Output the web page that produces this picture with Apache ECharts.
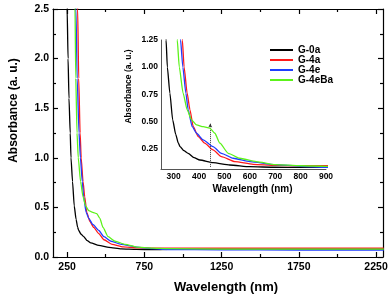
<!DOCTYPE html>
<html>
<head>
<meta charset="utf-8">
<script src="https://cdn.jsdelivr.net/npm/echarts@6/dist/echarts.min.js"></script>
<style>html,body{margin:0;padding:0;background:#fff}#c{width:391px;height:301px}</style>
</head>
<body>
<div id="c"></div>
<script>
// Data: [wavelength (nm), absorbance (a.u.)]
const seriesNames = ['G-0a', 'G-4a', 'G-4e', 'G-4eBa'];
const seriesColors = ['#000000', '#ff1a1a', '#1f3dff', '#5cf21a'];
const g0a = [[248,2.7],[250,2.5],[256,2.0],[262,1.6],[270,1.25],[275,1.0],[285,0.76],[296,0.514],[308,0.38],[318,0.3],[325,0.267],[340,0.23],[357,0.205],[380,0.165],[403,0.143],[455,0.118],[521,0.097],[600,0.081],[700,0.076],[800,0.075],[900,0.076],[1000,0.078],[1250,0.08],[1500,0.08],[1750,0.08],[2000,0.08],[2300,0.08]];
const g4a = [[316,2.7],[318,2.5],[325,1.8],[334,1.25],[341,1.0],[353,0.76],[364,0.606],[377,0.45],[397,0.359],[422,0.298],[455,0.236],[488,0.174],[541,0.128],[613,0.103],[700,0.093],[800,0.09],[900,0.09],[1250,0.09],[1750,0.09],[2300,0.09]];
const g4e = [[305,2.7],[307,2.5],[315,1.8],[327,1.25],[336,1.0],[348,0.76],[357,0.606],[373,0.45],[390,0.39],[416,0.329],[455,0.267],[488,0.205],[534,0.159],[600,0.128],[700,0.1],[800,0.085],[900,0.075],[1250,0.072],[1750,0.07],[2300,0.07]];
const g4eBa = [[299,2.7],[301,2.5],[306,1.8],[314,1.25],[322,1.0],[337,0.76],[353,0.606],[370,0.514],[390,0.467],[416,0.45],[442,0.437],[462,0.39],[482,0.298],[515,0.205],[560,0.159],[625,0.128],[700,0.1],[800,0.09],[900,0.085],[1250,0.08],[1750,0.08],[2300,0.08]];
const allData = [g0a, g4a, g4e, g4eBa];

// Axis ticks / labels
const mainXMajor = [250, 750, 1250, 1750, 2250];
const mainXMinor = [500, 1000, 1500, 2000];
const insetXLabels = [300, 400, 500, 600, 700, 800, 900];
const insetYLabels = [0.25, 0.5, 0.75, 1.0, 1.25];
// Dotted arrow marker in inset: [wavelength, from, to]
const arrowLine = [444, 0.08, 0.48];

const FONT = 'Liberation Sans, Arial, sans-serif';
const axisLine = {show: true, lineStyle: {color: '#000', width: 1.2}};

const chart = echarts.init(document.getElementById('c'), null, {renderer: 'canvas'});

const xAxes = [
  { // main bottom major
    gridIndex: 0, type: 'value', min: 158.5, max: 2295, position: 'bottom',
    axisLine: axisLine,
    axisTick: {show: true, inside: true, length: 5, customValues: mainXMajor, lineStyle: {color: '#000', width: 1.2}},
    axisLabel: {customValues: mainXMajor, color: '#000', fontFamily: FONT, fontWeight: 'bold', fontSize: 10.5, margin: 5,
      formatter: v => String(v)},
    splitLine: {show: false},
    name: 'Wavelength (nm)', nameLocation: 'middle', nameGap: 24,
    nameTextStyle: {color: '#000', fontFamily: FONT, fontWeight: 'bold', fontSize: 13, padding: [0, 0, 0, 16]}
  },
  { // main bottom minor
    gridIndex: 0, type: 'value', min: 158.5, max: 2295, position: 'bottom',
    axisLine: {show: false},
    axisTick: {show: true, inside: true, length: 3, customValues: mainXMinor, lineStyle: {color: '#000', width: 1.2}},
    axisLabel: {show: false}, splitLine: {show: false}
  },
  { // main top major
    gridIndex: 0, type: 'value', min: 158.5, max: 2295, position: 'top',
    axisLine: axisLine,
    axisTick: {show: true, inside: true, length: 5, customValues: mainXMajor, lineStyle: {color: '#000', width: 1.2}},
    axisLabel: {show: false}, splitLine: {show: false}
  },
  { // main top minor
    gridIndex: 0, type: 'value', min: 158.5, max: 2295, position: 'top',
    axisLine: {show: false},
    axisTick: {show: true, inside: true, length: 3, customValues: mainXMinor, lineStyle: {color: '#000', width: 1.2}},
    axisLabel: {show: false}, splitLine: {show: false}
  },
  { // inset x
    gridIndex: 1, type: 'value', min: 250, max: 900, position: 'bottom',
    axisLine: {show: true, lineStyle: {color: '#555', width: 1}},
    axisTick: {show: false},
    axisLabel: {customValues: insetXLabels, color: '#000', fontFamily: FONT, fontWeight: 'bold', fontSize: 8.5, margin: 3,
      formatter: v => String(v)},
    splitLine: {show: false},
    name: 'Wavelength (nm)', nameLocation: 'middle', nameGap: 15,
    nameTextStyle: {color: '#000', fontFamily: FONT, fontWeight: 'bold', fontSize: 10, padding: [0, 0, 0, 18]}
  }
];

const yAxes = [
  { // main left
    gridIndex: 0, type: 'value', min: 0, max: 2.5, interval: 0.5, position: 'left',
    axisLine: axisLine,
    axisTick: {show: true, inside: true, length: 5, lineStyle: {color: '#000', width: 1.2}},
    minorTick: {show: true, splitNumber: 2, length: 3, lineStyle: {color: '#000', width: 1.2}},
    axisLabel: {color: '#000', fontFamily: FONT, fontWeight: 'bold', fontSize: 10.5, margin: 4,
      formatter: v => v.toFixed(1)},
    splitLine: {show: false}, minorSplitLine: {show: false},
    name: 'Absorbance (a. u.)', nameLocation: 'middle', nameGap: 33,
    nameTextStyle: {color: '#000', fontFamily: FONT, fontWeight: 'bold', fontSize: 12, padding: [0, 0, 0, 45]}
  },
  { // main right
    gridIndex: 0, type: 'value', min: 0, max: 2.5, interval: 0.5, position: 'right',
    axisLine: axisLine,
    axisTick: {show: true, inside: true, length: 5, lineStyle: {color: '#000', width: 1.2}},
    minorTick: {show: true, splitNumber: 2, length: 3, lineStyle: {color: '#000', width: 1.2}},
    axisLabel: {show: false}, splitLine: {show: false}, minorSplitLine: {show: false}
  },
  { // inset y
    gridIndex: 1, type: 'value', min: 0.06, max: 1.25, position: 'left',
    axisLine: {show: true, lineStyle: {color: '#555', width: 1}},
    axisTick: {show: false},
    axisLabel: {customValues: insetYLabels, color: '#000', fontFamily: FONT, fontWeight: 'bold', fontSize: 8.5, margin: 3,
      formatter: v => v.toFixed(2)},
    splitLine: {show: false},
    name: 'Absorbance (a. u.)', nameLocation: 'middle', nameGap: 28,
    nameTextStyle: {color: '#000', fontFamily: FONT, fontWeight: 'bold', fontSize: 8.5, padding: [0, 0, 0, 36]}
  }
];

const series = [];
seriesNames.forEach((name, i) => {
  series.push({
    name: name, type: 'line', xAxisIndex: 0, yAxisIndex: 0, data: allData[i],
    showSymbol: false, smooth: 0.2, smoothMonotone: 'x', clip: true,
    lineStyle: {color: seriesColors[i], width: 1.3}, itemStyle: {color: seriesColors[i]}, z: 3 + i
  });
});
seriesNames.forEach((name, i) => {
  const s = {
    name: name, type: 'line', xAxisIndex: 4, yAxisIndex: 2, data: allData[i],
    showSymbol: false, smooth: 0.2, smoothMonotone: 'x', clip: true,
    lineStyle: {color: seriesColors[i], width: 1.3}, itemStyle: {color: seriesColors[i]}, z: 3 + i
  };
  if (i === 3) {
    s.markLine = {
      silent: true, symbol: ['none', 'arrow'], symbolSize: [3, 4],
      label: {show: false},
      lineStyle: {type: 'dotted', color: '#333', width: 1},
      data: [[{coord: [arrowLine[0], arrowLine[1]]}, {coord: [arrowLine[0], arrowLine[2]]}]]
    };
  }
  series.push(s);
});

chart.setOption({
  animation: false,
  backgroundColor: '#fff',
  grid: [
    {left: 49, top: 9, right: 8, bottom: 44, containLabel: false},
    {left: 161, top: 40, width: 165, bottom: 132, containLabel: false}
  ],
  xAxis: xAxes,
  yAxis: yAxes,
  legend: {
    data: seriesNames, orient: 'vertical', left: 270, top: 45,
    icon: 'rect', itemWidth: 23, itemHeight: 2, itemGap: 0, padding: 0,
    textStyle: {color: '#000', fontFamily: FONT, fontWeight: 'bold', fontSize: 10, lineHeight: 9.5},
    selectedMode: false
  },
  series: series
});
</script>
</body>
</html>
